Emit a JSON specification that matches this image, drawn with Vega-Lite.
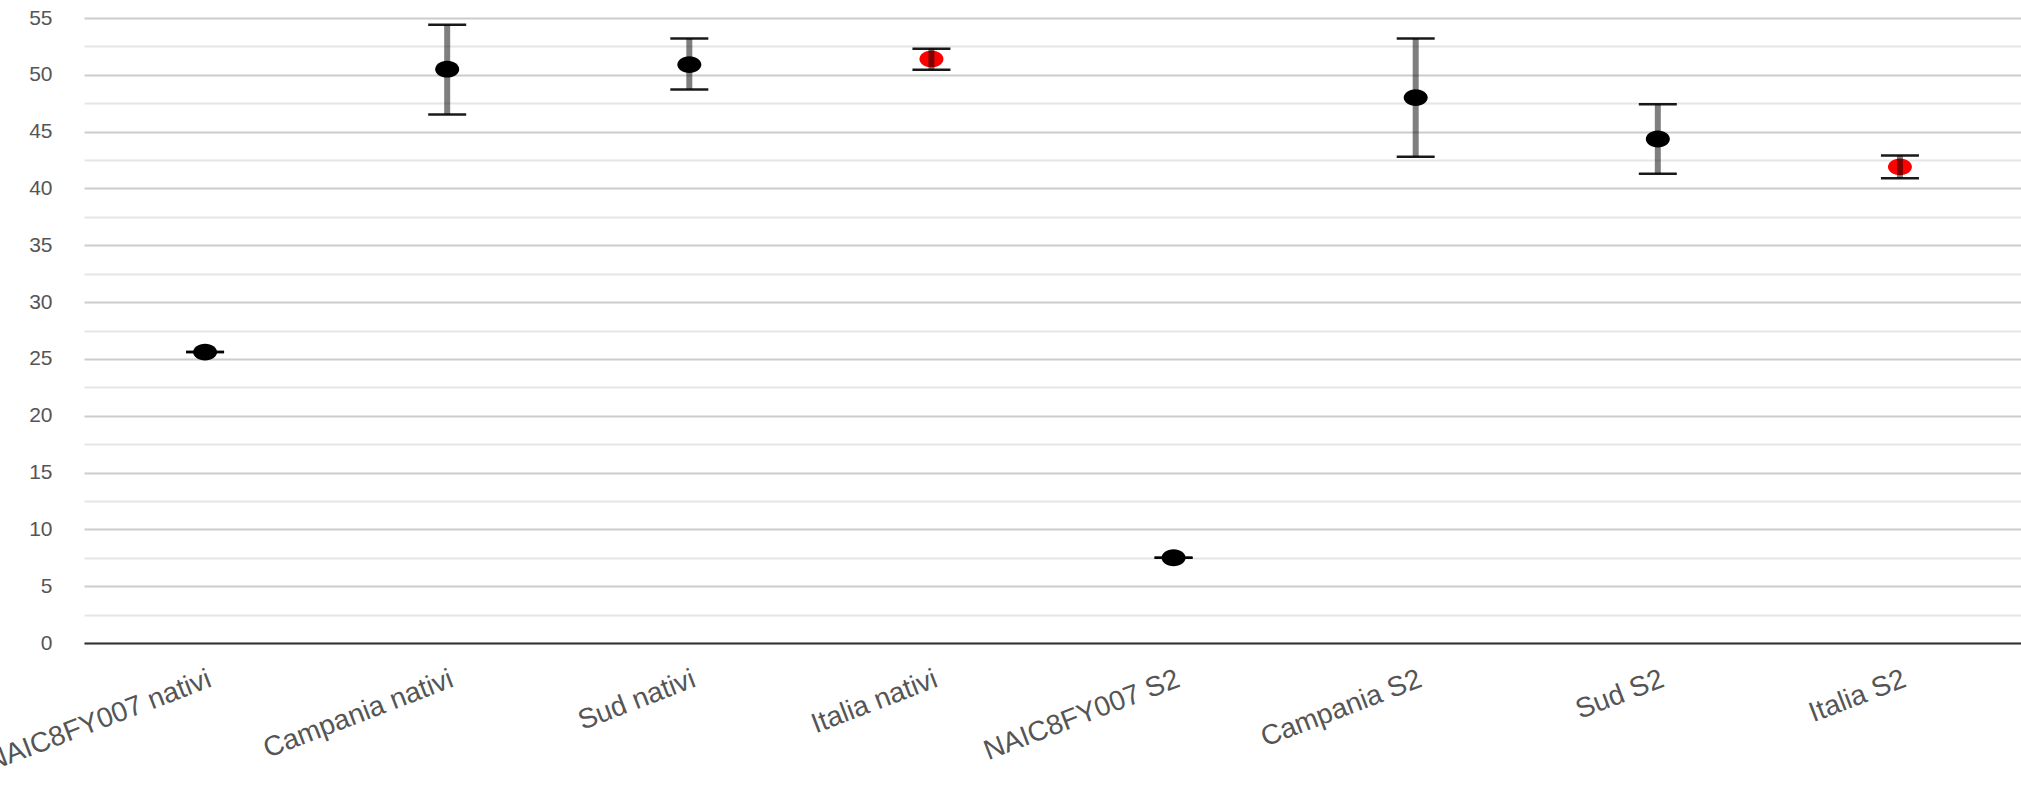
{
  "$schema": "https://vega.github.io/schema/vega-lite/v6.json",
  "autosize": {"type": "none"},
  "padding": {"left": 84, "top": 18, "right": 0, "bottom": 148},
  "width": 1937,
  "height": 625,
  "background": "white",
  "config": {
    "view": {"stroke": null},
    "font": "Liberation Sans"
  },
  "data": {
    "values": [
      {"cat": "NAIC8FY007 nativi", "val": 25.6, "lo": 25.6, "hi": 25.6, "tipo": "scuola"},
      {"cat": "Campania nativi", "val": 50.5, "lo": 46.5, "hi": 54.4, "tipo": "scuola"},
      {"cat": "Sud nativi", "val": 50.9, "lo": 48.7, "hi": 53.2, "tipo": "scuola"},
      {"cat": "Italia nativi", "val": 51.4, "lo": 50.45, "hi": 52.3, "tipo": "Italia"},
      {"cat": "NAIC8FY007 S2", "val": 7.5, "lo": 7.5, "hi": 7.5, "tipo": "scuola"},
      {"cat": "Campania S2", "val": 48.0, "lo": 42.8, "hi": 53.2, "tipo": "scuola"},
      {"cat": "Sud S2", "val": 44.35, "lo": 41.3, "hi": 47.4, "tipo": "scuola"},
      {"cat": "Italia S2", "val": 41.9, "lo": 40.9, "hi": 42.9, "tipo": "Italia"}
    ]
  },
  "encoding": {
    "x": {
      "field": "cat",
      "type": "nominal",
      "sort": null,
      "scale": {"paddingInner": 0, "paddingOuter": 0},
      "axis": {
        "title": null,
        "ticks": false,
        "domain": true,
        "domainColor": "#333333",
        "domainWidth": 2,
        "grid": false,
        "labelAngle": -21,
        "labelAlign": "right",
        "labelBaseline": "top",
        "labelPadding": 22,
        "labelFontSize": 28,
        "labelColor": "#555555",
        "labelFont": "Liberation Sans",
        "labelOverlap": false,
        "labelLimit": 0,
        "zindex": 3
      }
    }
  },
  "resolve": {"axis": {"y": "independent"}},
  "layer": [
    {
      "mark": {"type": "rule", "color": "#000000", "opacity": 0, "strokeWidth": 1},
      "encoding": {
        "y": {
          "field": "val",
          "type": "quantitative",
          "scale": {"domain": [0, 55], "nice": false, "zero": true},
          "axis": {
            "orient": "left",
            "title": null,
            "values": [2.5, 7.5, 12.5, 17.5, 22.5, 27.5, 32.5, 37.5, 42.5, 47.5, 52.5],
            "labels": false,
            "domain": false,
            "ticks": false,
            "grid": true,
            "gridColor": "#e6e6e6",
            "gridWidth": 2,
            "zindex": 0
          }
        }
      }
    },
    {
      "mark": {"type": "point", "filled": true, "opacity": 1, "shape": "M -1 0 A 1 0.7 0 1 0 1 0 A 1 0.7 0 1 0 -1 0 Z", "size": 576},
      "encoding": {
        "y": {
          "field": "val",
          "type": "quantitative",
          "scale": {"domain": [0, 55], "nice": false, "zero": true},
          "axis": {
            "orient": "left",
            "title": null,
            "values": [0, 5, 10, 15, 20, 25, 30, 35, 40, 45, 50, 55],
            "domain": false,
            "ticks": false,
            "grid": true,
            "gridColor": "#cccccc",
            "gridWidth": 2,
            "labelPadding": 32,
            "labelFontSize": 21,
            "labelColor": "#555555",
            "labelFont": "Liberation Sans",
            "labelBaseline": "middle",
            "zindex": 0
          }
        },
        "color": {
          "field": "tipo",
          "type": "nominal",
          "scale": {"domain": ["scuola", "Italia"], "range": ["#000000", "#ff0000"]},
          "legend": null
        }
      }
    },
    {
      "mark": {"type": "rule", "color": "#000000", "opacity": 0.5, "strokeWidth": 6},
      "encoding": {
        "y": {"field": "lo", "type": "quantitative", "axis": null},
        "y2": {"field": "hi"}
      }
    },
    {
      "mark": {"type": "tick", "color": "#000000", "size": 38, "thickness": 2.5, "opacity": 0.9},
      "encoding": {
        "y": {"field": "lo", "type": "quantitative", "axis": null}
      }
    },
    {
      "mark": {"type": "tick", "color": "#000000", "size": 38, "thickness": 2.5, "opacity": 0.9},
      "encoding": {
        "y": {"field": "hi", "type": "quantitative", "axis": null}
      }
    }
  ]
}
